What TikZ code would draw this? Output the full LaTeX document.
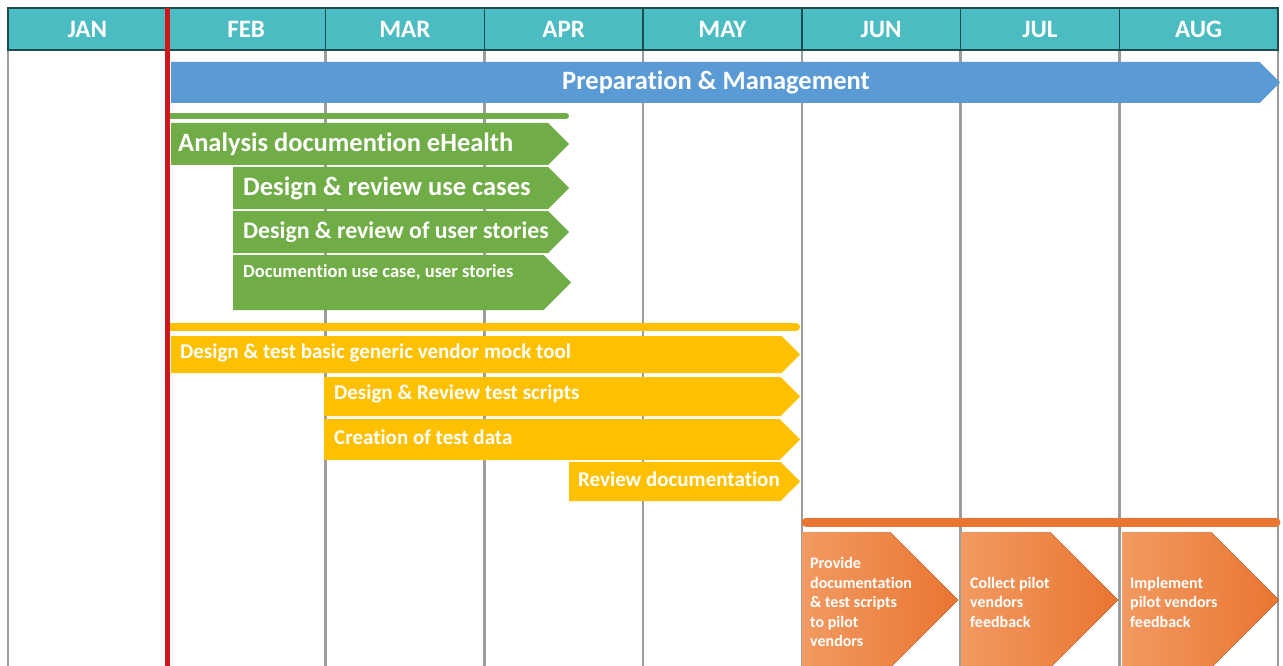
\documentclass[tikz,border=0pt]{standalone}
\usepackage{fontspec}
\setmainfont{Carlito}[Ligatures=NoCommon]
\usetikzlibrary{positioning}
\definecolor{headteal}{HTML}{4BBCC1}
\definecolor{headline}{HTML}{1E4B4E}
\definecolor{mgmtblue}{HTML}{5B9BD5}
\definecolor{taskgreen}{HTML}{70AD47}
\definecolor{taskyellow}{HTML}{FFC000}
\definecolor{taskorange}{HTML}{E97530}
\definecolor{lightorange}{HTML}{F29A62}
\definecolor{gridgrey}{HTML}{9C9C9C}
\definecolor{nowred}{HTML}{D0161B}
% one bar with a pointed right end: style, x from, x to, y top, y bottom
\newcommand{\taskbar}[5]{\fill[#1] (#2,#4) -- ({#3-(#5-#4)/2},#4) -- (#3,{(#4+#5)/2}) -- ({#3-(#5-#4)/2},#5) -- (#2,#5) -- cycle;}
\tikzset{
  month/.style={text=white, font=\bfseries\fontsize{25}{27}\selectfont},
  tasktext/.style={anchor=west, text=white, inner sep=0pt, font=\bfseries\fontsize{#1}{#1}\selectfont},
  steptext/.style={anchor=west, text=white, inner sep=0pt, align=left, font=\bfseries\fontsize{16}{19.5}\selectfont},
  gridline/.style={gridgrey, line width=2.5},
}
\begin{document}
\begin{tikzpicture}[x=1pt, y=-1pt]
    \useasboundingbox (0,0) rectangle (1283,666);
    \fill[white] (0,0) rectangle (1283,666);
    \def\colw{158.75}
    % grid
    \foreach \i in {2,...,7}
      \draw[gridline] ({8+\colw*\i},50) -- ++(0,616);
    \draw[gridgrey, line width=1.5] (8,50) -- (8,666);
    \draw[gridgrey, line width=1.5] (1278,50) -- (1278,666);
    % header
    \fill[headteal] (8,8) rectangle (1278,50);
    \foreach \i in {1,...,7}
      \draw[headline, line width=1.5] ({8+\colw*\i},8) -- ++(0,42);
    \draw[headline, line width=1.2] (8,8) rectangle (1278,50);
    \foreach \m [count=\i] in {JAN,FEB,MAR,APR,MAY,JUN,JUL,AUG}
      \node[month] (m\i) at ({8+\colw*(\i-0.5)},29) {\m};
    % management
    \taskbar{mgmtblue}{171}{1280}{62}{103}
    \node[tasktext=26.5, anchor=center] (prep) at (716,82) {Preparation \& Management};
    % analysis
    \draw[taskgreen, line width=6, line cap=round] (171,116) -- (566,116);
    \taskbar{taskgreen}{171}{569}{123}{165}
    \taskbar{taskgreen}{233}{569}{167}{209}
    \taskbar{taskgreen}{233}{569}{211}{253}
    \taskbar{taskgreen}{233}{571}{255}{310}
    \node[tasktext=26.5] (ana) at (178,144) {Analysis documention eHealth};
    \node[tasktext=26.5] (usec) at (243,188) {Design \& review use cases};
    \node[tasktext=23.8] (ustor) at (243,232) {Design \& review of user stories};
    \node[tasktext=18.5] (docu) at (243,272) {Documention use case, user stories};
    % test tooling
    \draw[taskyellow, line width=8, line cap=round] (171,327) -- (796,327);
    \taskbar{taskyellow}{171}{800}{336}{373}
    \taskbar{taskyellow}{324}{800}{377}{416}
    \taskbar{taskyellow}{324}{800}{419}{460}
    \taskbar{taskyellow}{569}{800}{462}{501}
    \node[tasktext=21] (mock) at (180,353) {Design \& test basic generic vendor mock tool};
    \node[tasktext=21] (scripts) at (334,394) {Design \& Review test scripts};
    \node[tasktext=21] (tdata) at (334,437) {Creation of test data};
    \node[tasktext=21] (revdoc) at (578,479) {Review documentation};
    % pilot vendors
    \draw[taskorange, line width=9, line cap=round] (806,522) -- (1276,522);
    \taskbar{left color=lightorange, right color=taskorange}{802}{958}{532}{668}
    \taskbar{left color=lightorange, right color=taskorange}{961}{1118}{532}{668}
    \taskbar{left color=lightorange, right color=taskorange}{1122}{1279}{532}{668}
    \node[steptext] (provide) at (810,602) {Provide\\documentation\\\& test scripts\\to pilot\\vendors};
    \node[steptext] (collect) at (970,602) {Collect pilot\\vendors\\feedback};
    \node[steptext] (implem) at (1130,602) {Implement\\pilot vendors\\feedback};
    % today
    \draw[nowred, line width=5] (167,8) -- (167,666);
  \end{tikzpicture}
\end{document}
